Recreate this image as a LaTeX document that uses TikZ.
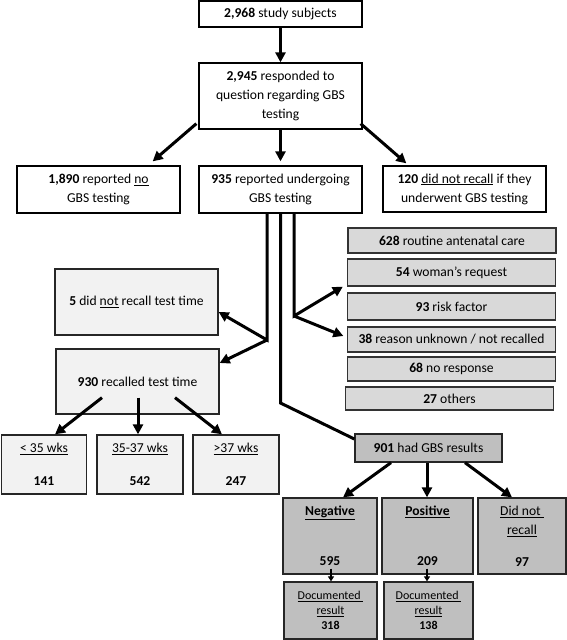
\documentclass[tikz,border=0pt]{standalone}
\usepackage{fontspec}
\setmainfont{Carlito}
\usepackage{tikz}
\usetikzlibrary{arrows}
\usetikzlibrary{arrows.meta}
\definecolor{paleGray}{HTML}{F2F2F2}
\definecolor{midGray}{HTML}{D9D9D9}
\definecolor{darkGray}{HTML}{BFBFBF}
\tikzstyle{whitebox}=[rectangle,draw=black,fill=white,line width=1.3pt,inner sep=0pt,align=center,font=\fontsize{13.6}{19}\selectfont]
\tikzstyle{palebox}=[whitebox,draw=black!85,fill=paleGray]
\tikzstyle{reasonbox}=[whitebox,draw=black!80,fill=midGray,minimum width=208pt]
\tikzstyle{resultbox}=[whitebox,draw=black!85,fill=darkGray]
\tikzstyle{bigarrow}=[-{Triangle[length=10pt,width=10pt]},line width=3pt]
\tikzstyle{thinarrow}=[-{Triangle[length=5pt,width=6pt]},line width=2pt]
\tikzstyle{plainline}=[line width=3pt]
\tikzset{every picture/.style={
    x=1pt,y=-1pt
  }
}

\begin{document}
\begin{tikzpicture}
      \useasboundingbox (0,0) rectangle (567,640);
      \node[whitebox,minimum width=163pt,minimum height=26pt] at (280.5,14) (n1) {\textbf{2,968} study subjects};
      \node[whitebox,minimum width=163pt,minimum height=66pt] at (280.5,96) (n2) {\textbf{2,945} responded to\\question regarding GBS\\testing};
      \node[whitebox,minimum width=163pt,minimum height=47pt] at (98.5,189.5) (no) {\textbf{1,890} reported \underline{no}\\GBS testing};
      \node[whitebox,minimum width=163pt,minimum height=47pt] at (280.5,189.5) (yes) {\textbf{935} reported undergoing\\GBS testing};
      \node[whitebox,minimum width=163pt,minimum height=46pt] at (464.5,189) (unk) {\textbf{120} \underline{did not recall} if they\\underwent GBS testing};
      \node[reasonbox,minimum height=25pt] at (452,240.5) (r1) {\textbf{628} routine antenatal care};
      \node[reasonbox,minimum height=27pt] at (451.5,272.5) (r2) {\textbf{54} woman's request};
      \node[reasonbox,minimum height=27pt] at (451.5,306.5) (r3) {\textbf{93} risk factor};
      \node[reasonbox,minimum height=25pt] at (451.5,339.5) (r4) {\textbf{38} reason unknown / not recalled};
      \node[reasonbox,minimum height=24pt] at (451.5,369) (r5) {\textbf{68} no response};
      \node[reasonbox,minimum height=23pt] at (449.5,398.5) (r6) {\textbf{27} others};
      \node[palebox,minimum width=163pt,minimum height=66pt] at (136.5,302) (tnr) {\textbf{5} did \underline{not} recall test time};
      \node[palebox,minimum width=163pt,minimum height=65pt] at (137.5,381.5) (trc) {\textbf{930} recalled test time};
      \node[palebox,minimum width=85pt,minimum height=59pt] at (44,464.5) (wk1) {\underline{< 35 wks}\\[14pt]\textbf{141}};
      \node[palebox,minimum width=86pt,minimum height=59pt] at (140,464.5) (wk2) {\underline{35-37 wks}\\[14pt]\textbf{542}};
      \node[palebox,minimum width=86pt,minimum height=59pt] at (236,464.5) (wk3) {\underline{>37 wks}\\[14pt]\textbf{247}};
      \node[resultbox,minimum width=147pt,minimum height=28pt] at (428.5,448) (res) {\textbf{901} had GBS results};
      \node[resultbox,minimum width=94pt,minimum height=76pt] at (330,536) (neg) {\underline{\textbf{Negative}}\\[31pt]\textbf{595}};
      \node[resultbox,minimum width=91pt,minimum height=76pt] at (427.5,536) (pos) {\underline{\textbf{Positive}}\\[31pt]\textbf{209}};
      \node[resultbox,minimum width=88pt,minimum height=76pt] at (522,536) (dnr) {\underline{Did not\ }\\\underline{recall}\\[13pt]\textbf{97}};
      \node[resultbox,minimum width=93pt,minimum height=57pt,font=\fontsize{12}{15}\selectfont] at (330.5,610.5) (dneg) {\underline{Documented\ }\\\underline{result}\\\textbf{318}};
      \node[resultbox,minimum width=89pt,minimum height=57pt,font=\fontsize{12}{15}\selectfont] at (428.5,610.5) (dpos) {\underline{Documented\ }\\\underline{result}\\\textbf{138}};
      \coordinate (k1) at (267,340);
      \coordinate (k2) at (280.5,403);
      \coordinate (k3) at (294,316);
      \draw[bigarrow] (n1.south) -- (n2.north);
      \draw[bigarrow] ([shift={(-2pt,6pt)}]n2.south west) -- ([shift={(-28pt,4pt)}]no.north east);
      \draw[bigarrow] (n2.south) -- ([yshift=4pt]yes.north);
      \draw[bigarrow] ([shift={(-2pt,6pt)}]n2.south east) -- ([shift={(24pt,2pt)}]unk.north west);
      \draw[bigarrow] ([xshift=-13.5pt]yes.south) -- (k1) -- ([yshift=-10pt]tnr.east);
      \draw[bigarrow] (k1) -- ([yshift=18.5pt]trc.east);
      \draw[plainline] (yes.south) -- (k2) -- ([yshift=9pt]res.west);
      \draw[bigarrow] ([xshift=13.5pt]yes.south) -- (k3) -- ([xshift=-4pt]r2.south west);
      \draw[bigarrow] (k3) -- ([shift={(-3.5pt,3.5pt)}]r4.west);
      \draw[bigarrow] ([shift={(-35.5pt,17pt)}]trc.south) -- ([xshift=11pt]wk1.north);
      \draw[bigarrow] ([shift={(0.5pt,17pt)}]trc.south) -- ([xshift=-2pt]wk2.north);
      \draw[bigarrow] ([shift={(37.5pt,17pt)}]trc.south) -- ([xshift=-14pt]wk3.north);
      \draw[bigarrow] ([xshift=-37.5pt]res.south) -- ([xshift=13pt]neg.north);
      \draw[bigarrow] ([xshift=-1.5pt]res.south) -- ([xshift=-0.5pt]pos.north);
      \draw[bigarrow] ([xshift=36.5pt]res.south) -- ([xshift=-10pt]dnr.north);
      \draw[thinarrow] ([shift={(1pt,6pt)}]neg.south) -- ([xshift=0.5pt]dneg.north);
      \draw[thinarrow] ([shift={(-0.5pt,6pt)}]pos.south) -- ([xshift=-1.5pt]dpos.north);
\end{tikzpicture}
\end{document}
